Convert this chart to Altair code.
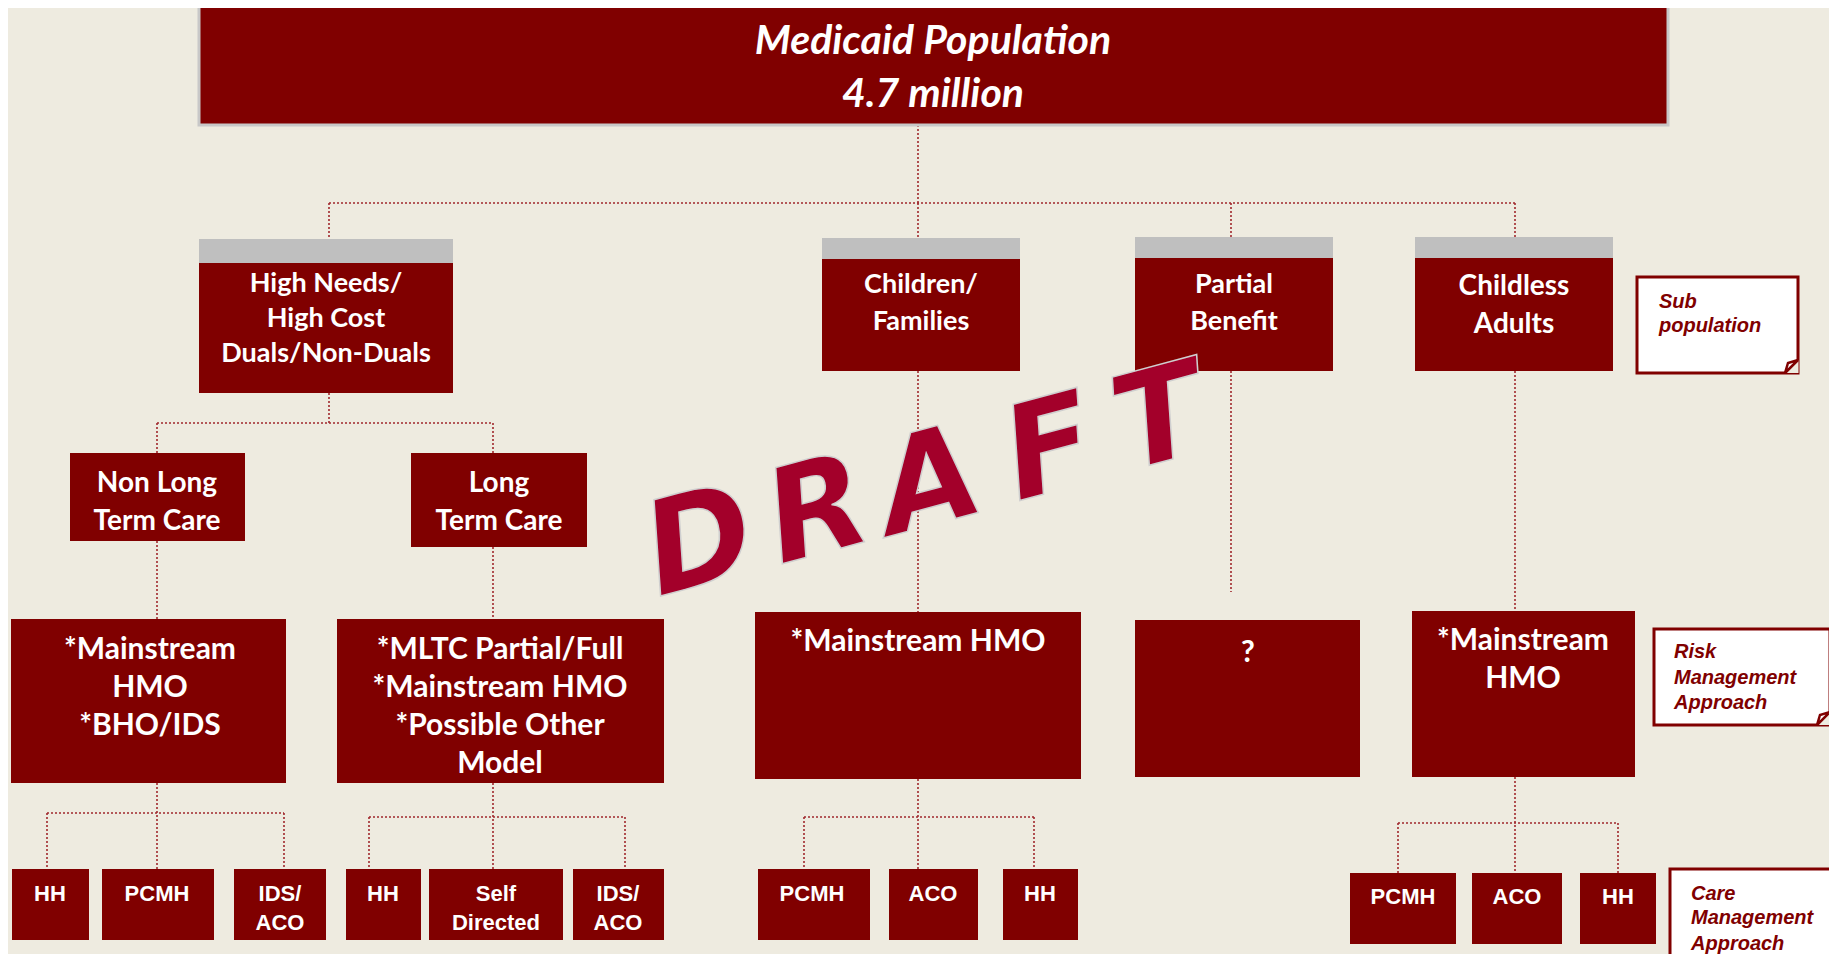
import altair as alt
import pandas as pd

# ---------------- colours ----------------
BG = "#EEEBE0"
MAROON = "#800000"
GRAY = "#BFBFBF"
DOT = "#A0282D"
DRAFT_RED = "#A3002A"

# ---------------- diagram data (reference pixel space) ----------------
# red boxes: (x1, x2, y1, y2)
top_box = [(199, 1668, 5, 125)]
level2_boxes = [(199, 453, 263, 393), (822, 1020, 259, 371),
                (1135, 1333, 258, 371), (1415, 1613, 258, 371)]
level2_headers = [(199, 453, 239, 263), (822, 1020, 238, 259),
                  (1135, 1333, 237, 258), (1415, 1613, 237, 258)]
level3_boxes = [(70, 245, 453, 541), (411, 587, 453, 547)]
level4_boxes = [(11, 286, 619, 783), (337, 664, 619, 783), (755, 1081, 612, 779),
                (1135, 1360, 620, 777), (1412, 1635, 611, 777)]
level5_boxes = [(12, 89, 869, 940), (102, 214, 869, 940), (234, 326, 869, 940),
                (346, 421, 869, 940), (429, 563, 869, 940), (573, 664, 869, 940),
                (758, 870, 869, 940), (889, 978, 869, 940), (1003, 1078, 869, 940),
                (1350, 1456, 873, 944), (1472, 1562, 873, 944), (1580, 1656, 873, 944)]
note_boxes = [(1637, 1798, 277, 373), (1654, 1830, 629, 725), (1670, 1870, 869, 1000)]

# connectors: (x1, y1, x2, y2)
connectors = [
    (918, 125, 918, 203), (329, 203, 1515, 203),
    (329, 203, 329, 239), (918, 203, 918, 238), (1231, 203, 1231, 237), (1515, 203, 1515, 237),
    (329, 393, 329, 423), (157, 423, 493, 423), (157, 423, 157, 453), (493, 423, 493, 453),
    (157, 541, 157, 619), (493, 547, 493, 619),
    (918, 371, 918, 612), (1231, 371, 1231, 592), (1515, 371, 1515, 611),
    (157, 783, 157, 869), (47, 813, 284, 813), (47, 813, 47, 869), (284, 813, 284, 869),
    (493, 783, 493, 869), (369, 817, 625, 817), (369, 817, 369, 869), (625, 817, 625, 869),
    (918, 779, 918, 869), (804, 817, 1034, 817), (804, 817, 804, 869), (1034, 817, 1034, 869),
    (1515, 777, 1515, 873), (1398, 823, 1618, 823), (1398, 823, 1398, 873), (1618, 823, 1618, 873),
]

# text lines: (x, y, text)
title_text = [(933, 42, "Medicaid Population"), (933, 95, "4.7 million")]
level2_text = [(326, 284, "High Needs/"), (326, 319, "High Cost"), (326, 354, "Duals/Non-Duals"),
               (921, 285, "Children/"), (921, 322, "Families"),
               (1234, 285, "Partial"), (1234, 322, "Benefit")]
childless_text = [(1514, 287, "Childless"), (1514, 325, "Adults")]
level3_text = [(157, 484, "Non Long"), (157, 522, "Term Care"),
               (499, 484, "Long"), (499, 522, "Term Care")]
level4_text = [(150, 650, "*Mainstream"), (150, 688, "HMO"), (150, 726, "*BHO/IDS"),
               (500, 650, "*MLTC Partial/Full"), (500, 688, "*Mainstream HMO"),
               (500, 726, "*Possible Other"), (500, 764, "Model"),
               (918, 642, "*Mainstream HMO"),
               (1248, 653, "?"),
               (1523, 641, "*Mainstream"), (1523, 679, "HMO")]
level5_text = [(50, 894, "HH"), (157, 894, "PCMH"), (280, 894, "IDS/"), (280, 923, "ACO"),
               (383, 894, "HH"), (496, 894, "Self"), (496, 923, "Directed"),
               (618, 894, "IDS/"), (618, 923, "ACO"),
               (812, 894, "PCMH"), (933, 894, "ACO"), (1040, 894, "HH"),
               (1403, 897, "PCMH"), (1517, 897, "ACO"), (1618, 897, "HH")]
note_text = [(1659, 302, "Sub"), (1659, 326, "population"),
             (1674, 652, "Risk"), (1674, 678, "Management"), (1674, 703, "Approach"),
             (1691, 894, "Care"), (1691, 918, "Management"), (1691, 944, "Approach")]
draft_letters = [(700, 545, "D"), (818, 514, "R"), (930, 485, "A"), (1050, 452, "F"), (1160, 422, "T")]

# folded corners of the two small notes: (note, x, y_top, y_bottom)
fold_cover = [("sub", 1785, 373, 373), ("sub", 1798.5, 360, 373),
              ("risk", 1817, 725, 725), ("risk", 1830.5, 712, 725)]
fold_lines = [("sub", 0, 1785, 373), ("sub", 1, 1788, 363), ("sub", 2, 1798, 360), ("sub", 3, 1785, 373),
              ("risk", 0, 1817, 725), ("risk", 1, 1820, 715), ("risk", 2, 1830, 712), ("risk", 3, 1817, 725)]

# ---------------- scales ----------------
XS = alt.Scale(domain=[8, 1829], nice=False, zero=False)
YS = alt.Scale(domain=[8, 954], nice=False, zero=False, reverse=True)


def X(f):
    return alt.X(f"{f}:Q", scale=XS, axis=None)


def Y(f):
    return alt.Y(f"{f}:Q", scale=YS, axis=None)


def rects(data, **kw):
    df = pd.DataFrame(data, columns=["x1", "x2", "y1", "y2"])
    return alt.Chart(df).mark_rect(**kw).encode(x=X("x1"), x2="x2", y=Y("y1"), y2="y2")


def texts(data, **kw):
    df = pd.DataFrame(data, columns=["x", "y", "t"])
    return alt.Chart(df).mark_text(**kw).encode(x=X("x"), y=Y("y"), text="t:N")


conn_df = pd.DataFrame(connectors, columns=["x1", "y1", "x2", "y2"])
rules = alt.Chart(conn_df).mark_rule(stroke=DOT, strokeWidth=1.6, strokeDash=[2, 2]).encode(
    x=X("x1"), x2="x2", y=Y("y1"), y2="y2")

box_text = dict(color="white", align="center", baseline="middle", font="Lato", fontWeight="bold")

layers = [
    rules,
    rects(top_box, fill=MAROON, stroke="#C8C8C8", strokeWidth=3),
    rects(level2_headers, fill=GRAY),
    rects(level2_boxes + level3_boxes + level4_boxes + level5_boxes, fill=MAROON),
    rects(note_boxes, fill="white", stroke=MAROON, strokeWidth=3),
    alt.Chart(pd.DataFrame(fold_cover, columns=["n", "x", "y1", "y2"])).mark_area(color=BG).encode(
        x=X("x"), y=Y("y1"), y2="y2", detail="n:N"),
    alt.Chart(pd.DataFrame(fold_lines, columns=["n", "o", "x", "y"])).mark_line(
        color=MAROON, strokeWidth=2.5).encode(x=X("x"), y=Y("y"), detail="n:N", order="o:Q"),
    texts(title_text, fontSize=41, fontStyle="italic", **box_text),
    texts(level2_text, fontSize=27, **box_text),
    texts(childless_text, fontSize=28, **box_text),
    texts(level3_text, fontSize=28, **box_text),
    texts(level4_text, fontSize=30, **box_text),
    texts(level5_text, fontSize=22, color="white", align="center", baseline="middle",
          font="Liberation Sans", fontWeight="bold"),
    texts(note_text, fontSize=20, color=MAROON, align="left", baseline="middle",
          font="Liberation Sans", fontWeight="bold", fontStyle="italic"),
    texts(draft_letters, fontSize=130, color=DRAFT_RED, stroke="#CFCFCF", strokeWidth=1.5,
          align="center", baseline="middle", angle=345,
          font="DejaVu Sans", fontWeight="bold", fontStyle="italic"),
]

chart = alt.layer(*layers).properties(
    width=1821, height=946,
    autosize=alt.AutoSizeParams(type="none"),
    padding=0,
    background=BG,
).configure_view(strokeWidth=0, fill=BG)

chart.save("out.html", embed_options={"renderer": "svg", "actions": False})
